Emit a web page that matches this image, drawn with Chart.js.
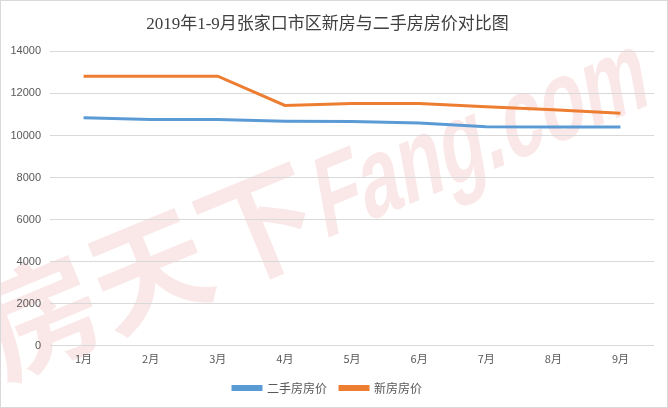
<!DOCTYPE html>
<html>
<head>
<meta charset="utf-8">
<script src="https://cdn.jsdelivr.net/npm/chart.js@4/dist/chart.umd.min.js"></script>
<style>
html,body{margin:0;padding:0;background:#fff;}
#wrap{position:relative;width:668px;height:408px;box-sizing:border-box;border:1px solid #d9d9d9;}
canvas{display:block;}
</style>
</head>
<body>
<div id="wrap"><canvas id="c" width="666" height="406"></canvas></div>
<script>
const titleText = '2019年1-9月张家口市区新房与二手房房价对比图';
const categories = ['1月','2月','3月','4月','5月','6月','7月','8月','9月'];
const secondHandPrice = [10840, 10760, 10760, 10680, 10670, 10590, 10420, 10400, 10400];
const newHousePrice = [12820, 12820, 12820, 11430, 11520, 11520, 11370, 11220, 11060];
const seriesNames = ['二手房房价', '新房房价'];
const yTicks = [0, 2000, 4000, 6000, 8000, 10000, 12000, 14000];

const watermark = {
  id: 'watermark',
  beforeDraw(chart) {
    const ctx = chart.ctx;
    ctx.save();
    ctx.fillStyle = 'rgba(228,110,110,0.17)';
    ctx.textBaseline = 'alphabetic';
    ctx.textAlign = 'left';
    ctx.translate(2, 378);
    ctx.rotate(-22.5 * Math.PI / 180);
    ctx.font = 'bold 118px "Noto Sans CJK SC", sans-serif';
    ctx.fillText('房天下', 0, 0);
    const w1 = ctx.measureText('房天下').width;
    ctx.translate(w1 - 4, -6);
    ctx.transform(0.67, 0, -0.22, 1, 0, 0);
    ctx.font = 'bold 112px "Liberation Sans", sans-serif';
    ctx.fillText('Fang.com', 0, 0);
    ctx.restore();
  }
};

new Chart(document.getElementById('c'), {
  type: 'line',
  data: {
    labels: categories,
    datasets: [
      { label: seriesNames[0], data: secondHandPrice, borderColor: '#5b9bd5', backgroundColor: '#5b9bd5', borderWidth: 3, pointRadius: 0, tension: 0 },
      { label: seriesNames[1], data: newHousePrice, borderColor: '#ed7d31', backgroundColor: '#ed7d31', borderWidth: 3, pointRadius: 0, tension: 0 }
    ]
  },
  options: {
    responsive: false,
    animation: false,
    layout: { padding: { left: 0, right: 13, top: 0, bottom: 3 } },
    plugins: {
      title: {
        display: true, text: titleText, color: '#404040',
        font: { family: '"Liberation Serif", "Noto Sans CJK SC", serif', size: 17, weight: 'normal' },
        padding: { top: 13, bottom: 17 }
      },
      legend: {
        position: 'bottom',
        labels: {
          color: '#595959', boxWidth: 28, boxHeight: 3,
          font: { family: '"Noto Sans CJK SC", sans-serif', size: 12 },
          padding: 13
        }
      },
      tooltip: { enabled: false }
    },
    scales: {
      x: {
        offset: true,
        afterFit(scale) { scale.height -= 2; },
        grid: { display: false, drawTicks: false },
        border: { display: false },
        ticks: { color: '#595959', font: { family: '"Noto Sans CJK SC", sans-serif', size: 11 }, padding: 6, maxRotation: 0 }
      },
      y: {
        min: 0, max: 14000,
        afterBuildTicks(scale) { scale.ticks = yTicks.map(v => ({ value: v })); },
        afterFit(scale) { scale.width = 49; },
        grid: { color: '#d9d9d9', drawTicks: false },
        border: { display: false },
        ticks: { color: '#595959', font: { family: '"Liberation Sans", sans-serif', size: 11 }, padding: 9, callback: v => String(v) }
      }
    }
  },
  plugins: [watermark]
});
</script>
</body>
</html>
